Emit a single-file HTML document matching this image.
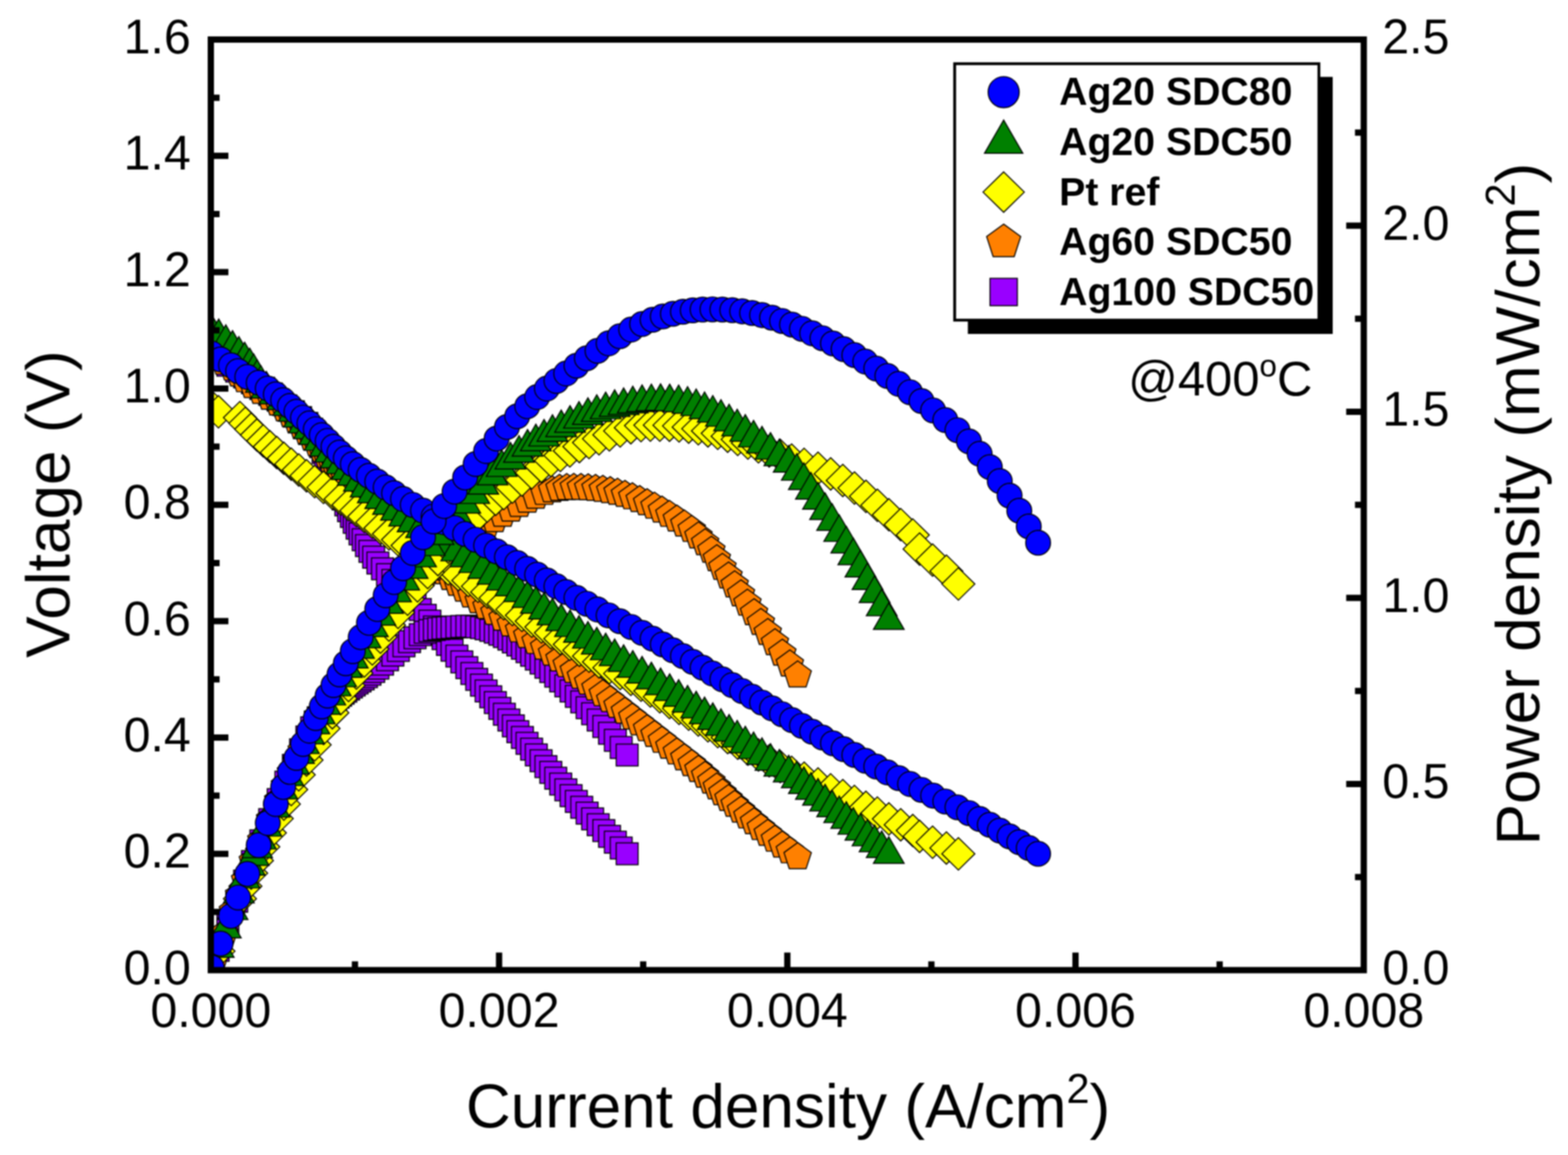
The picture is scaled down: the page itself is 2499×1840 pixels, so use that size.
<!DOCTYPE html>
<html lang="en"><head><meta charset="utf-8"><title>Polarization curves at 400 °C</title>
<style>html,body{margin:0;padding:0;background:#fff}body{width:2499px;height:1840px;overflow:hidden}svg{display:block}text{font-family:"Liberation Sans",Arial,Helvetica,sans-serif;fill:#000}.tk{font-size:77px}.ttl{font-size:99px}.lg{font-size:62.5px;font-weight:bold}.m *{stroke:#000;stroke-width:1.7;stroke-linejoin:miter}</style></head><body>
<svg width="2499" height="1840" viewBox="0 0 2499 1840">
<rect x="0" y="0" width="2499" height="1840" fill="#fff"/>
<defs><filter id="bl" x="-2%" y="-2%" width="104%" height="104%" color-interpolation-filters="sRGB"><feGaussianBlur stdDeviation="1.2"/></filter></defs>
<g filter="url(#bl)">
<clipPath id="cp"><rect x="336" y="63" width="1837.5" height="1482.5"/></clipPath>
<g clip-path="url(#cp)">
<g class="m">
<rect x="313.4" y="545.9" width="34.9" height="34.9" fill="#9900ff"/><rect x="330.2" y="555.2" width="34.9" height="34.9" fill="#9900ff"/><rect x="345.7" y="564.4" width="34.9" height="34.9" fill="#9900ff"/><rect x="359.8" y="573.7" width="34.9" height="34.9" fill="#9900ff"/><rect x="372.4" y="583" width="34.9" height="34.9" fill="#9900ff"/><rect x="384.9" y="592.2" width="34.9" height="34.9" fill="#9900ff"/><rect x="398.3" y="601.5" width="34.9" height="34.9" fill="#9900ff"/><rect x="412.4" y="610.8" width="34.9" height="34.9" fill="#9900ff"/><rect x="425.9" y="620" width="34.9" height="34.9" fill="#9900ff"/><rect x="438.2" y="629.3" width="34.9" height="34.9" fill="#9900ff"/><rect x="450.2" y="638.5" width="34.9" height="34.9" fill="#9900ff"/><rect x="461.6" y="647.8" width="34.9" height="34.9" fill="#9900ff"/><rect x="471.6" y="657.1" width="34.9" height="34.9" fill="#9900ff"/><rect x="479.3" y="666.3" width="34.9" height="34.9" fill="#9900ff"/><rect x="485" y="675.6" width="34.9" height="34.9" fill="#9900ff"/><rect x="489.7" y="684.9" width="34.9" height="34.9" fill="#9900ff"/><rect x="493.7" y="694.1" width="34.9" height="34.9" fill="#9900ff"/><rect x="497.5" y="703.4" width="34.9" height="34.9" fill="#9900ff"/><rect x="501.5" y="712.7" width="34.9" height="34.9" fill="#9900ff"/><rect x="505.6" y="721.9" width="34.9" height="34.9" fill="#9900ff"/><rect x="509.7" y="731.2" width="34.9" height="34.9" fill="#9900ff"/><rect x="513.7" y="740.5" width="34.9" height="34.9" fill="#9900ff"/><rect x="517.6" y="749.7" width="34.9" height="34.9" fill="#9900ff"/><rect x="521.5" y="759" width="34.9" height="34.9" fill="#9900ff"/><rect x="525.4" y="768.3" width="34.9" height="34.9" fill="#9900ff"/><rect x="529.5" y="777.5" width="34.9" height="34.9" fill="#9900ff"/><rect x="533.7" y="786.8" width="34.9" height="34.9" fill="#9900ff"/><rect x="538.1" y="796.1" width="34.9" height="34.9" fill="#9900ff"/><rect x="542.6" y="805.3" width="34.9" height="34.9" fill="#9900ff"/><rect x="547.1" y="814.6" width="34.9" height="34.9" fill="#9900ff"/><rect x="551.7" y="823.9" width="34.9" height="34.9" fill="#9900ff"/><rect x="556.4" y="833.1" width="34.9" height="34.9" fill="#9900ff"/><rect x="561.4" y="842.4" width="34.9" height="34.9" fill="#9900ff"/><rect x="566.6" y="851.7" width="34.9" height="34.9" fill="#9900ff"/><rect x="572.2" y="860.9" width="34.9" height="34.9" fill="#9900ff"/><rect x="578.1" y="870.2" width="34.9" height="34.9" fill="#9900ff"/><rect x="584.8" y="879.5" width="34.9" height="34.9" fill="#9900ff"/><rect x="592.2" y="888.7" width="34.9" height="34.9" fill="#9900ff"/><rect x="600.2" y="898" width="34.9" height="34.9" fill="#9900ff"/><rect x="608.7" y="907.3" width="34.9" height="34.9" fill="#9900ff"/><rect x="617.5" y="916.5" width="34.9" height="34.9" fill="#9900ff"/><rect x="626.4" y="925.8" width="34.9" height="34.9" fill="#9900ff"/><rect x="635.3" y="935.1" width="34.9" height="34.9" fill="#9900ff"/><rect x="644" y="944.3" width="34.9" height="34.9" fill="#9900ff"/><rect x="652.4" y="953.6" width="34.9" height="34.9" fill="#9900ff"/><rect x="660.3" y="962.8" width="34.9" height="34.9" fill="#9900ff"/><rect x="667.7" y="972.1" width="34.9" height="34.9" fill="#9900ff"/><rect x="674.8" y="981.4" width="34.9" height="34.9" fill="#9900ff"/><rect x="681.8" y="990.6" width="34.9" height="34.9" fill="#9900ff"/><rect x="688.7" y="999.9" width="34.9" height="34.9" fill="#9900ff"/><rect x="695.7" y="1009.2" width="34.9" height="34.9" fill="#9900ff"/><rect x="703" y="1018.4" width="34.9" height="34.9" fill="#9900ff"/><rect x="710.7" y="1027.7" width="34.9" height="34.9" fill="#9900ff"/><rect x="718.6" y="1037" width="34.9" height="34.9" fill="#9900ff"/><rect x="726.6" y="1046.2" width="34.9" height="34.9" fill="#9900ff"/><rect x="734.6" y="1055.5" width="34.9" height="34.9" fill="#9900ff"/><rect x="742.3" y="1064.8" width="34.9" height="34.9" fill="#9900ff"/><rect x="749.9" y="1074" width="34.9" height="34.9" fill="#9900ff"/><rect x="757.3" y="1083.3" width="34.9" height="34.9" fill="#9900ff"/><rect x="764.7" y="1092.6" width="34.9" height="34.9" fill="#9900ff"/><rect x="772" y="1101.8" width="34.9" height="34.9" fill="#9900ff"/><rect x="779.2" y="1111.1" width="34.9" height="34.9" fill="#9900ff"/><rect x="786.4" y="1120.4" width="34.9" height="34.9" fill="#9900ff"/><rect x="793.6" y="1129.6" width="34.9" height="34.9" fill="#9900ff"/><rect x="800.7" y="1138.9" width="34.9" height="34.9" fill="#9900ff"/><rect x="807.9" y="1148.2" width="34.9" height="34.9" fill="#9900ff"/><rect x="815.2" y="1157.4" width="34.9" height="34.9" fill="#9900ff"/><rect x="822.5" y="1166.7" width="34.9" height="34.9" fill="#9900ff"/><rect x="829.8" y="1176" width="34.9" height="34.9" fill="#9900ff"/><rect x="837.3" y="1185.2" width="34.9" height="34.9" fill="#9900ff"/><rect x="844.9" y="1194.5" width="34.9" height="34.9" fill="#9900ff"/><rect x="852.6" y="1203.8" width="34.9" height="34.9" fill="#9900ff"/><rect x="860.4" y="1213" width="34.9" height="34.9" fill="#9900ff"/><rect x="868.3" y="1222.3" width="34.9" height="34.9" fill="#9900ff"/><rect x="876.2" y="1231.6" width="34.9" height="34.9" fill="#9900ff"/><rect x="884.4" y="1240.8" width="34.9" height="34.9" fill="#9900ff"/><rect x="892.7" y="1250.1" width="34.9" height="34.9" fill="#9900ff"/><rect x="901.1" y="1259.3" width="34.9" height="34.9" fill="#9900ff"/><rect x="909.7" y="1268.6" width="34.9" height="34.9" fill="#9900ff"/><rect x="918.3" y="1277.9" width="34.9" height="34.9" fill="#9900ff"/><rect x="927.1" y="1287.1" width="34.9" height="34.9" fill="#9900ff"/><rect x="935.9" y="1296.4" width="34.9" height="34.9" fill="#9900ff"/><rect x="944.9" y="1305.7" width="34.9" height="34.9" fill="#9900ff"/><rect x="954" y="1314.9" width="34.9" height="34.9" fill="#9900ff"/><rect x="963.3" y="1324.2" width="34.9" height="34.9" fill="#9900ff"/><rect x="972.6" y="1333.5" width="34.9" height="34.9" fill="#9900ff"/><rect x="982.1" y="1342.7" width="34.9" height="34.9" fill="#9900ff"/>
</g><g class="m">
<rect x="313.4" y="1542.1" width="34.9" height="34.9" fill="#9900ff"/><rect x="330.2" y="1496.5" width="34.9" height="34.9" fill="#9900ff"/><rect x="345.7" y="1455" width="34.9" height="34.9" fill="#9900ff"/><rect x="359.8" y="1418.3" width="34.9" height="34.9" fill="#9900ff"/><rect x="372.4" y="1386.2" width="34.9" height="34.9" fill="#9900ff"/><rect x="384.9" y="1355.1" width="34.9" height="34.9" fill="#9900ff"/><rect x="398.3" y="1322.1" width="34.9" height="34.9" fill="#9900ff"/><rect x="412.4" y="1288.3" width="34.9" height="34.9" fill="#9900ff"/><rect x="425.9" y="1256.4" width="34.9" height="34.9" fill="#9900ff"/><rect x="438.2" y="1228.5" width="34.9" height="34.9" fill="#9900ff"/><rect x="450.2" y="1201.8" width="34.9" height="34.9" fill="#9900ff"/><rect x="461.6" y="1177.1" width="34.9" height="34.9" fill="#9900ff"/><rect x="471.6" y="1156.6" width="34.9" height="34.9" fill="#9900ff"/><rect x="479.3" y="1142" width="34.9" height="34.9" fill="#9900ff"/><rect x="485" y="1132.7" width="34.9" height="34.9" fill="#9900ff"/><rect x="489.7" y="1126.1" width="34.9" height="34.9" fill="#9900ff"/><rect x="493.7" y="1121.1" width="34.9" height="34.9" fill="#9900ff"/><rect x="497.5" y="1116.8" width="34.9" height="34.9" fill="#9900ff"/><rect x="501.5" y="1112.5" width="34.9" height="34.9" fill="#9900ff"/><rect x="505.6" y="1107.8" width="34.9" height="34.9" fill="#9900ff"/><rect x="509.7" y="1103.6" width="34.9" height="34.9" fill="#9900ff"/><rect x="513.7" y="1099.9" width="34.9" height="34.9" fill="#9900ff"/><rect x="517.6" y="1096.4" width="34.9" height="34.9" fill="#9900ff"/><rect x="521.5" y="1093.2" width="34.9" height="34.9" fill="#9900ff"/><rect x="525.4" y="1090.1" width="34.9" height="34.9" fill="#9900ff"/><rect x="529.5" y="1086.9" width="34.9" height="34.9" fill="#9900ff"/><rect x="533.7" y="1083.7" width="34.9" height="34.9" fill="#9900ff"/><rect x="538.1" y="1080.3" width="34.9" height="34.9" fill="#9900ff"/><rect x="542.6" y="1077" width="34.9" height="34.9" fill="#9900ff"/><rect x="547.1" y="1073.8" width="34.9" height="34.9" fill="#9900ff"/><rect x="551.7" y="1070.6" width="34.9" height="34.9" fill="#9900ff"/><rect x="556.4" y="1067.4" width="34.9" height="34.9" fill="#9900ff"/><rect x="561.4" y="1064.1" width="34.9" height="34.9" fill="#9900ff"/><rect x="566.6" y="1060.5" width="34.9" height="34.9" fill="#9900ff"/><rect x="572.2" y="1056.6" width="34.9" height="34.9" fill="#9900ff"/><rect x="578.1" y="1052.2" width="34.9" height="34.9" fill="#9900ff"/><rect x="584.8" y="1046.9" width="34.9" height="34.9" fill="#9900ff"/><rect x="592.2" y="1040.6" width="34.9" height="34.9" fill="#9900ff"/><rect x="600.2" y="1033.6" width="34.9" height="34.9" fill="#9900ff"/><rect x="608.7" y="1026.2" width="34.9" height="34.9" fill="#9900ff"/><rect x="617.5" y="1018.7" width="34.9" height="34.9" fill="#9900ff"/><rect x="626.4" y="1011.4" width="34.9" height="34.9" fill="#9900ff"/><rect x="635.3" y="1004.7" width="34.9" height="34.9" fill="#9900ff"/><rect x="644" y="998.6" width="34.9" height="34.9" fill="#9900ff"/><rect x="652.4" y="993.6" width="34.9" height="34.9" fill="#9900ff"/><rect x="660.3" y="989.8" width="34.9" height="34.9" fill="#9900ff"/><rect x="667.7" y="987.2" width="34.9" height="34.9" fill="#9900ff"/><rect x="674.8" y="985.4" width="34.9" height="34.9" fill="#9900ff"/><rect x="681.8" y="984.2" width="34.9" height="34.9" fill="#9900ff"/><rect x="688.7" y="983.3" width="34.9" height="34.9" fill="#9900ff"/><rect x="695.7" y="982.7" width="34.9" height="34.9" fill="#9900ff"/><rect x="703" y="982.1" width="34.9" height="34.9" fill="#9900ff"/><rect x="710.7" y="981.3" width="34.9" height="34.9" fill="#9900ff"/><rect x="718.6" y="980.6" width="34.9" height="34.9" fill="#9900ff"/><rect x="726.6" y="980.2" width="34.9" height="34.9" fill="#9900ff"/><rect x="734.6" y="980.3" width="34.9" height="34.9" fill="#9900ff"/><rect x="742.3" y="981" width="34.9" height="34.9" fill="#9900ff"/><rect x="749.9" y="982.4" width="34.9" height="34.9" fill="#9900ff"/><rect x="757.3" y="984.3" width="34.9" height="34.9" fill="#9900ff"/><rect x="764.7" y="986.7" width="34.9" height="34.9" fill="#9900ff"/><rect x="772" y="989.6" width="34.9" height="34.9" fill="#9900ff"/><rect x="779.2" y="992.9" width="34.9" height="34.9" fill="#9900ff"/><rect x="786.4" y="996.6" width="34.9" height="34.9" fill="#9900ff"/><rect x="793.6" y="1000.7" width="34.9" height="34.9" fill="#9900ff"/><rect x="800.7" y="1005.2" width="34.9" height="34.9" fill="#9900ff"/><rect x="807.9" y="1010" width="34.9" height="34.9" fill="#9900ff"/><rect x="815.2" y="1015.2" width="34.9" height="34.9" fill="#9900ff"/><rect x="822.5" y="1020.7" width="34.9" height="34.9" fill="#9900ff"/><rect x="829.8" y="1026.4" width="34.9" height="34.9" fill="#9900ff"/><rect x="837.3" y="1032.5" width="34.9" height="34.9" fill="#9900ff"/><rect x="844.9" y="1038.8" width="34.9" height="34.9" fill="#9900ff"/><rect x="852.6" y="1045.5" width="34.9" height="34.9" fill="#9900ff"/><rect x="860.4" y="1052.4" width="34.9" height="34.9" fill="#9900ff"/><rect x="868.3" y="1059.7" width="34.9" height="34.9" fill="#9900ff"/><rect x="876.2" y="1067.3" width="34.9" height="34.9" fill="#9900ff"/><rect x="884.4" y="1075.2" width="34.9" height="34.9" fill="#9900ff"/><rect x="892.7" y="1083.4" width="34.9" height="34.9" fill="#9900ff"/><rect x="901.1" y="1091.9" width="34.9" height="34.9" fill="#9900ff"/><rect x="909.7" y="1100.7" width="34.9" height="34.9" fill="#9900ff"/><rect x="918.3" y="1110" width="34.9" height="34.9" fill="#9900ff"/><rect x="927.1" y="1119.6" width="34.9" height="34.9" fill="#9900ff"/><rect x="935.9" y="1129.6" width="34.9" height="34.9" fill="#9900ff"/><rect x="944.9" y="1139.9" width="34.9" height="34.9" fill="#9900ff"/><rect x="954" y="1150.7" width="34.9" height="34.9" fill="#9900ff"/><rect x="963.3" y="1161.9" width="34.9" height="34.9" fill="#9900ff"/><rect x="972.6" y="1173.4" width="34.9" height="34.9" fill="#9900ff"/><rect x="982.1" y="1185.4" width="34.9" height="34.9" fill="#9900ff"/>
</g>
<g class="m">
<polygon points="340.6,545.5 362.4,561.4 354.1,587 327.2,587 318.8,561.4" fill="#ff8000"/><polygon points="357.6,554.8 379.4,570.6 371.1,596.2 344.1,596.2 335.8,570.6" fill="#ff8000"/><polygon points="371.1,564.1 392.9,579.9 384.6,605.5 357.7,605.5 349.4,579.9" fill="#ff8000"/><polygon points="381.1,573.3 402.9,589.2 394.5,614.8 367.6,614.8 359.3,589.2" fill="#ff8000"/><polygon points="390.7,582.6 412.4,598.4 404.1,624 377.2,624 368.9,598.4" fill="#ff8000"/><polygon points="403,591.9 424.8,607.7 416.5,633.3 389.5,633.3 381.2,607.7" fill="#ff8000"/><polygon points="416.5,601.1 438.3,617 430,642.6 403.1,642.6 394.7,617" fill="#ff8000"/><polygon points="430.5,610.4 452.2,626.2 443.9,651.8 417,651.8 408.7,626.2" fill="#ff8000"/><polygon points="443.4,619.7 465.2,635.5 456.9,661.1 430,661.1 421.6,635.5" fill="#ff8000"/><polygon points="454.1,628.9 475.9,644.8 467.6,670.4 440.6,670.4 432.3,644.8" fill="#ff8000"/><polygon points="463.7,638.2 485.5,654 477.2,679.6 450.2,679.6 441.9,654" fill="#ff8000"/><polygon points="472.6,647.5 494.3,663.3 486,688.9 459.1,688.9 450.8,663.3" fill="#ff8000"/><polygon points="480.9,656.7 502.7,672.6 494.4,698.2 467.5,698.2 459.1,672.6" fill="#ff8000"/><polygon points="489,666 510.8,681.8 502.5,707.4 475.6,707.4 467.3,681.8" fill="#ff8000"/><polygon points="497.2,675.3 518.9,691.1 510.6,716.7 483.7,716.7 475.4,691.1" fill="#ff8000"/><polygon points="505.2,684.5 527,700.3 518.7,726 491.8,726 483.4,700.3" fill="#ff8000"/><polygon points="512.9,693.8 534.7,709.6 526.3,735.2 499.4,735.2 491.1,709.6" fill="#ff8000"/><polygon points="520.3,703.1 542.1,718.9 533.7,744.5 506.8,744.5 498.5,718.9" fill="#ff8000"/><polygon points="527.5,712.3 549.3,728.1 541,753.7 514.1,753.7 505.7,728.1" fill="#ff8000"/><polygon points="534.7,721.6 556.5,737.4 548.2,763 521.3,763 513,737.4" fill="#ff8000"/><polygon points="542.1,730.9 563.9,746.7 555.6,772.3 528.6,772.3 520.3,746.7" fill="#ff8000"/><polygon points="549.7,740.1 571.5,755.9 563.1,781.5 536.2,781.5 527.9,755.9" fill="#ff8000"/><polygon points="557.7,749.4 579.4,765.2 571.1,790.8 544.2,790.8 535.9,765.2" fill="#ff8000"/><polygon points="566.1,758.6 587.9,774.5 579.6,800.1 552.7,800.1 544.3,774.5" fill="#ff8000"/><polygon points="575.2,767.9 597,783.7 588.7,809.3 561.7,809.3 553.4,783.7" fill="#ff8000"/><polygon points="584.8,777.2 606.6,793 598.3,818.6 571.4,818.6 563,793" fill="#ff8000"/><polygon points="594.9,786.4 616.6,802.3 608.3,827.9 581.4,827.9 573.1,802.3" fill="#ff8000"/><polygon points="605.2,795.7 627,811.5 618.7,837.1 591.8,837.1 583.4,811.5" fill="#ff8000"/><polygon points="615.8,805 637.6,820.8 629.3,846.4 602.3,846.4 594,820.8" fill="#ff8000"/><polygon points="626.5,814.2 648.3,830.1 639.9,855.7 613,855.7 604.7,830.1" fill="#ff8000"/><polygon points="637.2,823.5 658.9,839.3 650.6,864.9 623.7,864.9 615.4,839.3" fill="#ff8000"/><polygon points="647.7,832.8 669.5,848.6 661.2,874.2 634.3,874.2 625.9,848.6" fill="#ff8000"/><polygon points="658.1,842 679.9,857.9 671.5,883.5 644.6,883.5 636.3,857.9" fill="#ff8000"/><polygon points="668.2,851.3 690,867.1 681.6,892.7 654.7,892.7 646.4,867.1" fill="#ff8000"/><polygon points="678.1,860.6 699.9,876.4 691.6,902 664.7,902 656.3,876.4" fill="#ff8000"/><polygon points="688,869.8 709.8,885.7 701.5,911.3 674.5,911.3 666.2,885.7" fill="#ff8000"/><polygon points="697.9,879.1 719.7,894.9 711.4,920.5 684.5,920.5 676.1,894.9" fill="#ff8000"/><polygon points="708,888.4 729.7,904.2 721.4,929.8 694.5,929.8 686.2,904.2" fill="#ff8000"/><polygon points="718.2,897.6 740,913.5 731.7,939.1 704.7,939.1 696.4,913.5" fill="#ff8000"/><polygon points="728.8,906.9 750.5,922.7 742.2,948.3 715.3,948.3 707,922.7" fill="#ff8000"/><polygon points="739.7,916.2 761.5,932 753.2,957.6 726.3,957.6 718,932" fill="#ff8000"/><polygon points="751.2,925.4 773,941.3 764.6,966.9 737.7,966.9 729.4,941.3" fill="#ff8000"/><polygon points="763.1,934.7 784.9,950.5 776.6,976.1 749.7,976.1 741.3,950.5" fill="#ff8000"/><polygon points="775.5,944 797.2,959.8 788.9,985.4 762,985.4 753.7,959.8" fill="#ff8000"/><polygon points="788.1,953.2 809.9,969.1 801.6,994.7 774.7,994.7 766.3,969.1" fill="#ff8000"/><polygon points="801,962.5 822.8,978.3 814.5,1003.9 787.6,1003.9 779.2,978.3" fill="#ff8000"/><polygon points="814.1,971.8 835.9,987.6 827.5,1013.2 800.6,1013.2 792.3,987.6" fill="#ff8000"/><polygon points="827.2,981 849,996.8 840.7,1022.5 813.8,1022.5 805.5,996.8" fill="#ff8000"/><polygon points="840.4,990.3 862.2,1006.1 853.9,1031.7 826.9,1031.7 818.6,1006.1" fill="#ff8000"/><polygon points="853.7,999.6 875.4,1015.4 867.1,1041 840.2,1041 831.9,1015.4" fill="#ff8000"/><polygon points="867.3,1008.8 889.1,1024.6 880.7,1050.2 853.8,1050.2 845.5,1024.6" fill="#ff8000"/><polygon points="879.9,1018.1 901.7,1033.9 893.4,1059.5 866.4,1059.5 858.1,1033.9" fill="#ff8000"/><polygon points="891.8,1027.4 913.6,1043.2 905.3,1068.8 878.3,1068.8 870,1043.2" fill="#ff8000"/><polygon points="903.3,1036.6 925,1052.4 916.7,1078 889.8,1078 881.5,1052.4" fill="#ff8000"/><polygon points="914.6,1045.9 936.3,1061.7 928,1087.3 901.1,1087.3 892.8,1061.7" fill="#ff8000"/><polygon points="925.9,1055.1 947.7,1071 939.3,1096.6 912.4,1096.6 904.1,1071" fill="#ff8000"/><polygon points="937.4,1064.4 959.2,1080.2 950.9,1105.8 924,1105.8 915.7,1080.2" fill="#ff8000"/><polygon points="949.1,1073.7 970.9,1089.5 962.6,1115.1 935.7,1115.1 927.3,1089.5" fill="#ff8000"/><polygon points="960.8,1082.9 982.6,1098.8 974.3,1124.4 947.4,1124.4 939,1098.8" fill="#ff8000"/><polygon points="972.5,1092.2 994.3,1108 986,1133.6 959.1,1133.6 950.8,1108" fill="#ff8000"/><polygon points="984.3,1101.5 1006,1117.3 997.7,1142.9 970.8,1142.9 962.5,1117.3" fill="#ff8000"/><polygon points="996,1110.7 1017.8,1126.6 1009.5,1152.2 982.5,1152.2 974.2,1126.6" fill="#ff8000"/><polygon points="1007.8,1120 1029.5,1135.8 1021.2,1161.4 994.3,1161.4 986,1135.8" fill="#ff8000"/><polygon points="1019.5,1129.3 1041.3,1145.1 1033,1170.7 1006.1,1170.7 997.8,1145.1" fill="#ff8000"/><polygon points="1031.3,1138.5 1053.1,1154.4 1044.8,1180 1017.9,1180 1009.6,1154.4" fill="#ff8000"/><polygon points="1043.2,1147.8 1064.9,1163.6 1056.6,1189.2 1029.7,1189.2 1021.4,1163.6" fill="#ff8000"/><polygon points="1055,1157.1 1076.8,1172.9 1068.5,1198.5 1041.5,1198.5 1033.2,1172.9" fill="#ff8000"/><polygon points="1066.9,1166.3 1088.6,1182.2 1080.3,1207.8 1053.4,1207.8 1045.1,1182.2" fill="#ff8000"/><polygon points="1078.7,1175.6 1100.5,1191.4 1092.2,1217 1065.3,1217 1057,1191.4" fill="#ff8000"/><polygon points="1090.7,1184.9 1112.5,1200.7 1104.1,1226.3 1077.2,1226.3 1068.9,1200.7" fill="#ff8000"/><polygon points="1102.5,1194.1 1124.3,1210 1115.9,1235.6 1089,1235.6 1080.7,1210" fill="#ff8000"/><polygon points="1113.2,1203.4 1135,1219.2 1126.7,1244.8 1099.7,1244.8 1091.4,1219.2" fill="#ff8000"/><polygon points="1123.8,1212.7 1145.6,1228.5 1137.3,1254.1 1110.4,1254.1 1102.1,1228.5" fill="#ff8000"/><polygon points="1133.8,1221.9 1155.5,1237.8 1147.2,1263.4 1120.3,1263.4 1112,1237.8" fill="#ff8000"/><polygon points="1142.4,1231.2 1164.2,1247 1155.9,1272.6 1129,1272.6 1120.7,1247" fill="#ff8000"/><polygon points="1151.4,1240.5 1173.2,1256.3 1164.9,1281.9 1138,1281.9 1129.6,1256.3" fill="#ff8000"/><polygon points="1161.1,1249.7 1182.8,1265.6 1174.5,1291.2 1147.6,1291.2 1139.3,1265.6" fill="#ff8000"/><polygon points="1170.9,1259 1192.7,1274.8 1184.4,1300.4 1157.4,1300.4 1149.1,1274.8" fill="#ff8000"/><polygon points="1180.9,1268.3 1202.7,1284.1 1194.4,1309.7 1167.5,1309.7 1159.2,1284.1" fill="#ff8000"/><polygon points="1191.2,1277.5 1213,1293.3 1204.7,1319 1177.8,1319 1169.5,1293.3" fill="#ff8000"/><polygon points="1201.8,1286.8 1223.5,1302.6 1215.2,1328.2 1188.3,1328.2 1180,1302.6" fill="#ff8000"/><polygon points="1212.6,1296.1 1234.4,1311.9 1226,1337.5 1199.1,1337.5 1190.8,1311.9" fill="#ff8000"/><polygon points="1223.7,1305.3 1245.4,1321.1 1237.1,1346.7 1210.2,1346.7 1201.9,1321.1" fill="#ff8000"/><polygon points="1235.1,1314.6 1256.8,1330.4 1248.5,1356 1221.6,1356 1213.3,1330.4" fill="#ff8000"/><polygon points="1246.8,1323.9 1268.6,1339.7 1260.3,1365.3 1233.3,1365.3 1225,1339.7" fill="#ff8000"/><polygon points="1258.9,1333.1 1280.6,1348.9 1272.3,1374.5 1245.4,1374.5 1237.1,1348.9" fill="#ff8000"/><polygon points="1271.3,1342.4 1293.1,1358.2 1284.7,1383.8 1257.8,1383.8 1249.5,1358.2" fill="#ff8000"/>
</g><g class="m">
<polygon points="340.6,1510 362.4,1525.8 354.1,1551.4 327.2,1551.4 318.8,1525.8" fill="#ff8000"/><polygon points="357.6,1464.3 379.4,1480.2 371.1,1505.8 344.1,1505.8 335.8,1480.2" fill="#ff8000"/><polygon points="371.1,1428.8 392.9,1444.6 384.6,1470.2 357.7,1470.2 349.4,1444.6" fill="#ff8000"/><polygon points="381.1,1403.3 402.9,1419.2 394.5,1444.8 367.6,1444.8 359.3,1419.2" fill="#ff8000"/><polygon points="390.7,1379.4 412.4,1395.3 404.1,1420.9 377.2,1420.9 368.9,1395.3" fill="#ff8000"/><polygon points="403,1348.8 424.8,1364.7 416.5,1390.3 389.5,1390.3 381.2,1364.7" fill="#ff8000"/><polygon points="416.5,1315.9 438.3,1331.7 430,1357.3 403.1,1357.3 394.7,1331.7" fill="#ff8000"/><polygon points="430.5,1282.5 452.2,1298.3 443.9,1323.9 417,1323.9 408.7,1298.3" fill="#ff8000"/><polygon points="443.4,1252.3 465.2,1268.2 456.9,1293.8 430,1293.8 421.6,1268.2" fill="#ff8000"/><polygon points="454.1,1228.5 475.9,1244.3 467.6,1269.9 440.6,1269.9 432.3,1244.3" fill="#ff8000"/><polygon points="463.7,1207.9 485.5,1223.7 477.2,1249.3 450.2,1249.3 441.9,1223.7" fill="#ff8000"/><polygon points="472.6,1189.6 494.3,1205.4 486,1231 459.1,1231 450.8,1205.4" fill="#ff8000"/><polygon points="480.9,1172.9 502.7,1188.8 494.4,1214.4 467.5,1214.4 459.1,1188.8" fill="#ff8000"/><polygon points="489,1157.3 510.8,1173.1 502.5,1198.7 475.6,1198.7 467.3,1173.1" fill="#ff8000"/><polygon points="497.2,1142.1 518.9,1157.9 510.6,1183.5 483.7,1183.5 475.4,1157.9" fill="#ff8000"/><polygon points="505.2,1127.4 527,1143.3 518.7,1168.9 491.8,1168.9 483.4,1143.3" fill="#ff8000"/><polygon points="512.9,1114.1 534.7,1129.9 526.3,1155.5 499.4,1155.5 491.1,1129.9" fill="#ff8000"/><polygon points="520.3,1101.8 542.1,1117.6 533.7,1143.2 506.8,1143.2 498.5,1117.6" fill="#ff8000"/><polygon points="527.5,1090.2 549.3,1106 541,1131.6 514.1,1131.6 505.7,1106" fill="#ff8000"/><polygon points="534.7,1079 556.5,1094.8 548.2,1120.4 521.3,1120.4 513,1094.8" fill="#ff8000"/><polygon points="542.1,1067.9 563.9,1083.8 555.6,1109.4 528.6,1109.4 520.3,1083.8" fill="#ff8000"/><polygon points="549.7,1056.7 571.5,1072.5 563.1,1098.1 536.2,1098.1 527.9,1072.5" fill="#ff8000"/><polygon points="557.7,1045.1 579.4,1060.9 571.1,1086.5 544.2,1086.5 535.9,1060.9" fill="#ff8000"/><polygon points="566.1,1032.7 587.9,1048.6 579.6,1074.2 552.7,1074.2 544.3,1048.6" fill="#ff8000"/><polygon points="575.2,1019.6 597,1035.4 588.7,1061 561.7,1061 553.4,1035.4" fill="#ff8000"/><polygon points="584.8,1005.8 606.6,1021.6 598.3,1047.2 571.4,1047.2 563,1021.6" fill="#ff8000"/><polygon points="594.9,991.6 616.6,1007.5 608.3,1033.1 581.4,1033.1 573.1,1007.5" fill="#ff8000"/><polygon points="605.2,977.3 627,993.2 618.7,1018.8 591.8,1018.8 583.4,993.2" fill="#ff8000"/><polygon points="615.8,963.1 637.6,979 629.3,1004.6 602.3,1004.6 594,979" fill="#ff8000"/><polygon points="626.5,949.3 648.3,965.1 639.9,990.7 613,990.7 604.7,965.1" fill="#ff8000"/><polygon points="637.2,936 658.9,951.8 650.6,977.4 623.7,977.4 615.4,951.8" fill="#ff8000"/><polygon points="647.7,923.4 669.5,939.3 661.2,964.9 634.3,964.9 625.9,939.3" fill="#ff8000"/><polygon points="658.1,911.8 679.9,927.7 671.5,953.3 644.6,953.3 636.3,927.7" fill="#ff8000"/><polygon points="668.2,901.3 690,917.1 681.6,942.7 654.7,942.7 646.4,917.1" fill="#ff8000"/><polygon points="678.1,891.5 699.9,907.3 691.6,932.9 664.7,932.9 656.3,907.3" fill="#ff8000"/><polygon points="688,882.4 709.8,898.2 701.5,923.8 674.5,923.8 666.2,898.2" fill="#ff8000"/><polygon points="697.9,873.7 719.7,889.5 711.4,915.1 684.5,915.1 676.1,889.5" fill="#ff8000"/><polygon points="708,865.3 729.7,881.1 721.4,906.7 694.5,906.7 686.2,881.1" fill="#ff8000"/><polygon points="718.2,857 740,872.8 731.7,898.4 704.7,898.4 696.4,872.8" fill="#ff8000"/><polygon points="728.8,848.8 750.5,864.6 742.2,890.2 715.3,890.2 707,864.6" fill="#ff8000"/><polygon points="739.7,840.4 761.5,856.2 753.2,881.8 726.3,881.8 718,856.2" fill="#ff8000"/><polygon points="751.2,831.8 773,847.6 764.6,873.2 737.7,873.2 729.4,847.6" fill="#ff8000"/><polygon points="763.1,822.9 784.9,838.7 776.6,864.4 749.7,864.4 741.3,838.7" fill="#ff8000"/><polygon points="775.5,814.1 797.2,829.9 788.9,855.5 762,855.5 753.7,829.9" fill="#ff8000"/><polygon points="788.1,805.3 809.9,821.1 801.6,846.8 774.7,846.8 766.3,821.1" fill="#ff8000"/><polygon points="801,796.9 822.8,812.7 814.5,838.3 787.6,838.3 779.2,812.7" fill="#ff8000"/><polygon points="814.1,788.8 835.9,804.6 827.5,830.2 800.6,830.2 792.3,804.6" fill="#ff8000"/><polygon points="827.2,781.3 849,797.1 840.7,822.7 813.8,822.7 805.5,797.1" fill="#ff8000"/><polygon points="840.4,774.5 862.2,790.3 853.9,815.9 826.9,815.9 818.6,790.3" fill="#ff8000"/><polygon points="853.7,768.1 875.4,784 867.1,809.6 840.2,809.6 831.9,784" fill="#ff8000"/><polygon points="867.3,762 889.1,777.9 880.7,803.5 853.8,803.5 845.5,777.9" fill="#ff8000"/><polygon points="879.9,758 901.7,773.8 893.4,799.4 866.4,799.4 858.1,773.8" fill="#ff8000"/><polygon points="891.8,755.6 913.6,771.5 905.3,797.1 878.3,797.1 870,771.5" fill="#ff8000"/><polygon points="903.3,754.4 925,770.3 916.7,795.9 889.8,795.9 881.5,770.3" fill="#ff8000"/><polygon points="914.6,754.1 936.3,769.9 928,795.5 901.1,795.5 892.8,769.9" fill="#ff8000"/><polygon points="925.9,754.3 947.7,770.1 939.3,795.7 912.4,795.7 904.1,770.1" fill="#ff8000"/><polygon points="937.4,754.7 959.2,770.6 950.9,796.2 924,796.2 915.7,770.6" fill="#ff8000"/><polygon points="949.1,755.7 970.9,771.5 962.6,797.1 935.7,797.1 927.3,771.5" fill="#ff8000"/><polygon points="960.8,757.2 982.6,773 974.3,798.6 947.4,798.6 939,773" fill="#ff8000"/><polygon points="972.5,759.3 994.3,775.1 986,800.7 959.1,800.7 950.8,775.1" fill="#ff8000"/><polygon points="984.3,761.9 1006,777.7 997.7,803.4 970.8,803.4 962.5,777.7" fill="#ff8000"/><polygon points="996,765.2 1017.8,781 1009.5,806.6 982.5,806.6 974.2,781" fill="#ff8000"/><polygon points="1007.8,769 1029.5,784.9 1021.2,810.5 994.3,810.5 986,784.9" fill="#ff8000"/><polygon points="1019.5,773.5 1041.3,789.3 1033,814.9 1006.1,814.9 997.8,789.3" fill="#ff8000"/><polygon points="1031.3,778.5 1053.1,794.3 1044.8,819.9 1017.9,819.9 1009.6,794.3" fill="#ff8000"/><polygon points="1043.2,784.1 1064.9,799.9 1056.6,825.5 1029.7,825.5 1021.4,799.9" fill="#ff8000"/><polygon points="1055,790.3 1076.8,806.1 1068.5,831.7 1041.5,831.7 1033.2,806.1" fill="#ff8000"/><polygon points="1066.9,797.1 1088.6,812.9 1080.3,838.5 1053.4,838.5 1045.1,812.9" fill="#ff8000"/><polygon points="1078.7,804.5 1100.5,820.3 1092.2,845.9 1065.3,845.9 1057,820.3" fill="#ff8000"/><polygon points="1090.7,812.4 1112.5,828.2 1104.1,853.8 1077.2,853.8 1068.9,828.2" fill="#ff8000"/><polygon points="1102.5,821.1 1124.3,836.9 1115.9,862.5 1089,862.5 1080.7,836.9" fill="#ff8000"/><polygon points="1113.2,831.3 1135,847.2 1126.7,872.8 1099.7,872.8 1091.4,847.2" fill="#ff8000"/><polygon points="1123.8,842.2 1145.6,858 1137.3,883.6 1110.4,883.6 1102.1,858" fill="#ff8000"/><polygon points="1133.8,854.2 1155.5,870.1 1147.2,895.7 1120.3,895.7 1112,870.1" fill="#ff8000"/><polygon points="1142.4,867.8 1164.2,883.6 1155.9,909.2 1129,909.2 1120.7,883.6" fill="#ff8000"/><polygon points="1151.4,881.6 1173.2,897.4 1164.9,923 1138,923 1129.6,897.4" fill="#ff8000"/><polygon points="1161.1,895.3 1182.8,911.1 1174.5,936.7 1147.6,936.7 1139.3,911.1" fill="#ff8000"/><polygon points="1170.9,909.4 1192.7,925.2 1184.4,950.8 1157.4,950.8 1149.1,925.2" fill="#ff8000"/><polygon points="1180.9,923.8 1202.7,939.6 1194.4,965.2 1167.5,965.2 1159.2,939.6" fill="#ff8000"/><polygon points="1191.2,938.6 1213,954.4 1204.7,980 1177.8,980 1169.5,954.4" fill="#ff8000"/><polygon points="1201.8,953.7 1223.5,969.6 1215.2,995.2 1188.3,995.2 1180,969.6" fill="#ff8000"/><polygon points="1212.6,969.3 1234.4,985.1 1226,1010.7 1199.1,1010.7 1190.8,985.1" fill="#ff8000"/><polygon points="1223.7,985.2 1245.4,1001 1237.1,1026.6 1210.2,1026.6 1201.9,1001" fill="#ff8000"/><polygon points="1235.1,1001.5 1256.8,1017.3 1248.5,1042.9 1221.6,1042.9 1213.3,1017.3" fill="#ff8000"/><polygon points="1246.8,1018.2 1268.6,1034 1260.3,1059.6 1233.3,1059.6 1225,1034" fill="#ff8000"/><polygon points="1258.9,1035.4 1280.6,1051.2 1272.3,1076.8 1245.4,1076.8 1237.1,1051.2" fill="#ff8000"/><polygon points="1271.3,1052.9 1293.1,1068.8 1284.7,1094.4 1257.8,1094.4 1249.5,1068.8" fill="#ff8000"/>
</g>
<g class="m">
<polygon points="336,620.9 362.3,646.7 336,672.5 309.7,646.7" fill="#ffff00"/><polygon points="348.2,630.2 374.5,656 348.2,681.8 321.9,656" fill="#ffff00"/><polygon points="382.4,639.5 408.7,665.3 382.4,691.1 356.1,665.3" fill="#ffff00"/><polygon points="391.1,648.7 417.4,674.5 391.1,700.3 364.8,674.5" fill="#ffff00"/><polygon points="400.3,658 426.6,683.8 400.3,709.6 374,683.8" fill="#ffff00"/><polygon points="409.5,667.3 435.8,693.1 409.5,718.9 383.2,693.1" fill="#ffff00"/><polygon points="419.6,676.5 445.9,702.3 419.6,728.1 393.3,702.3" fill="#ffff00"/><polygon points="430.1,685.8 456.4,711.6 430.1,737.4 403.8,711.6" fill="#ffff00"/><polygon points="441.1,695.1 467.4,720.9 441.1,746.7 414.8,720.9" fill="#ffff00"/><polygon points="452.4,704.3 478.7,730.1 452.4,755.9 426.1,730.1" fill="#ffff00"/><polygon points="464.1,713.6 490.4,739.4 464.1,765.2 437.8,739.4" fill="#ffff00"/><polygon points="476.1,722.9 502.4,748.7 476.1,774.5 449.8,748.7" fill="#ffff00"/><polygon points="488.5,732.1 514.8,757.9 488.5,783.7 462.2,757.9" fill="#ffff00"/><polygon points="501.5,741.4 527.8,767.2 501.5,793 475.2,767.2" fill="#ffff00"/><polygon points="515.6,750.7 541.9,776.5 515.6,802.3 489.3,776.5" fill="#ffff00"/><polygon points="529.7,759.9 556,785.7 529.7,811.5 503.4,785.7" fill="#ffff00"/><polygon points="542.9,769.2 569.2,795 542.9,820.8 516.6,795" fill="#ffff00"/><polygon points="555.5,778.5 581.8,804.3 555.5,830.1 529.2,804.3" fill="#ffff00"/><polygon points="568,787.7 594.3,813.5 568,839.3 541.7,813.5" fill="#ffff00"/><polygon points="580.6,797 606.9,822.8 580.6,848.6 554.3,822.8" fill="#ffff00"/><polygon points="593.4,806.2 619.7,832 593.4,857.8 567.1,832" fill="#ffff00"/><polygon points="606.4,815.5 632.7,841.3 606.4,867.1 580.1,841.3" fill="#ffff00"/><polygon points="619.9,824.8 646.2,850.6 619.9,876.4 593.6,850.6" fill="#ffff00"/><polygon points="634.4,834 660.7,859.8 634.4,885.6 608.1,859.8" fill="#ffff00"/><polygon points="649.6,843.3 675.9,869.1 649.6,894.9 623.3,869.1" fill="#ffff00"/><polygon points="665.4,852.6 691.7,878.4 665.4,904.2 639.1,878.4" fill="#ffff00"/><polygon points="681.6,861.8 707.9,887.6 681.6,913.4 655.3,887.6" fill="#ffff00"/><polygon points="697.9,871.1 724.2,896.9 697.9,922.7 671.6,896.9" fill="#ffff00"/><polygon points="714.3,880.4 740.6,906.2 714.3,932 688,906.2" fill="#ffff00"/><polygon points="730.6,889.6 756.9,915.4 730.6,941.2 704.3,915.4" fill="#ffff00"/><polygon points="746.5,898.9 772.8,924.7 746.5,950.5 720.2,924.7" fill="#ffff00"/><polygon points="761.8,908.2 788.1,934 761.8,959.8 735.5,934" fill="#ffff00"/><polygon points="776.5,917.4 802.8,943.2 776.5,969 750.2,943.2" fill="#ffff00"/><polygon points="790,926.7 816.3,952.5 790,978.3 763.7,952.5" fill="#ffff00"/><polygon points="802.8,936 829.1,961.8 802.8,987.6 776.5,961.8" fill="#ffff00"/><polygon points="816.6,945.2 842.9,971 816.6,996.8 790.3,971" fill="#ffff00"/><polygon points="831.8,954.5 858.1,980.3 831.8,1006.1 805.5,980.3" fill="#ffff00"/><polygon points="847.5,963.8 873.8,989.6 847.5,1015.4 821.2,989.6" fill="#ffff00"/><polygon points="862.9,973 889.2,998.8 862.9,1024.6 836.6,998.8" fill="#ffff00"/><polygon points="878.1,982.3 904.4,1008.1 878.1,1033.9 851.8,1008.1" fill="#ffff00"/><polygon points="893.1,991.6 919.4,1017.4 893.1,1043.2 866.8,1017.4" fill="#ffff00"/><polygon points="908.2,1000.8 934.5,1026.6 908.2,1052.4 881.9,1026.6" fill="#ffff00"/><polygon points="923.4,1010.1 949.7,1035.9 923.4,1061.7 897.1,1035.9" fill="#ffff00"/><polygon points="938.8,1019.4 965.1,1045.2 938.8,1071 912.5,1045.2" fill="#ffff00"/><polygon points="954.7,1028.6 981,1054.4 954.7,1080.2 928.4,1054.4" fill="#ffff00"/><polygon points="971.2,1037.9 997.5,1063.7 971.2,1089.5 944.9,1063.7" fill="#ffff00"/><polygon points="988.4,1047.2 1014.7,1073 988.4,1098.8 962.1,1073" fill="#ffff00"/><polygon points="1005.4,1056.4 1031.7,1082.2 1005.4,1108 979.1,1082.2" fill="#ffff00"/><polygon points="1021.6,1065.7 1047.9,1091.5 1021.6,1117.3 995.3,1091.5" fill="#ffff00"/><polygon points="1036.5,1075 1062.8,1100.8 1036.5,1126.6 1010.2,1100.8" fill="#ffff00"/><polygon points="1051.6,1084.2 1077.9,1110 1051.6,1135.8 1025.3,1110" fill="#ffff00"/><polygon points="1067,1093.5 1093.3,1119.3 1067,1145.1 1040.7,1119.3" fill="#ffff00"/><polygon points="1082.3,1102.7 1108.6,1128.5 1082.3,1154.3 1056,1128.5" fill="#ffff00"/><polygon points="1097.6,1112 1123.9,1137.8 1097.6,1163.6 1071.3,1137.8" fill="#ffff00"/><polygon points="1112.9,1121.3 1139.2,1147.1 1112.9,1172.9 1086.6,1147.1" fill="#ffff00"/><polygon points="1128.3,1130.5 1154.6,1156.3 1128.3,1182.1 1102,1156.3" fill="#ffff00"/><polygon points="1143.9,1139.8 1170.2,1165.6 1143.9,1191.4 1117.6,1165.6" fill="#ffff00"/><polygon points="1159.7,1149.1 1186,1174.9 1159.7,1200.7 1133.4,1174.9" fill="#ffff00"/><polygon points="1175.7,1158.3 1202,1184.1 1175.7,1209.9 1149.4,1184.1" fill="#ffff00"/><polygon points="1192,1167.6 1218.3,1193.4 1192,1219.2 1165.7,1193.4" fill="#ffff00"/><polygon points="1208.8,1176.9 1235.1,1202.7 1208.8,1228.5 1182.5,1202.7" fill="#ffff00"/><polygon points="1225.9,1186.1 1252.2,1211.9 1225.9,1237.7 1199.6,1211.9" fill="#ffff00"/><polygon points="1243.5,1195.4 1269.8,1221.2 1243.5,1247 1217.2,1221.2" fill="#ffff00"/><polygon points="1261.6,1204.7 1287.9,1230.5 1261.6,1256.3 1235.3,1230.5" fill="#ffff00"/><polygon points="1281.6,1213.9 1307.9,1239.7 1281.6,1265.5 1255.3,1239.7" fill="#ffff00"/><polygon points="1303.7,1223.2 1330,1249 1303.7,1274.8 1277.4,1249" fill="#ffff00"/><polygon points="1323.9,1232.5 1350.2,1258.3 1323.9,1284.1 1297.6,1258.3" fill="#ffff00"/><polygon points="1343.2,1241.7 1369.5,1267.5 1343.2,1293.3 1316.9,1267.5" fill="#ffff00"/><polygon points="1361.8,1251 1388.1,1276.8 1361.8,1302.6 1335.5,1276.8" fill="#ffff00"/><polygon points="1380.1,1260.3 1406.4,1286.1 1380.1,1311.9 1353.8,1286.1" fill="#ffff00"/><polygon points="1398.3,1269.5 1424.6,1295.3 1398.3,1321.1 1372,1295.3" fill="#ffff00"/><polygon points="1416.7,1278.8 1443,1304.6 1416.7,1330.4 1390.4,1304.6" fill="#ffff00"/><polygon points="1435.5,1288.1 1461.8,1313.9 1435.5,1339.7 1409.2,1313.9" fill="#ffff00"/><polygon points="1454.8,1297.3 1481.1,1323.1 1454.8,1348.9 1428.5,1323.1" fill="#ffff00"/><polygon points="1465.6,1306.6 1491.9,1332.4 1465.6,1358.2 1439.3,1332.4" fill="#ffff00"/><polygon points="1486.3,1315.9 1512.6,1341.7 1486.3,1367.5 1460,1341.7" fill="#ffff00"/><polygon points="1508.3,1325.1 1534.6,1350.9 1508.3,1376.7 1482,1350.9" fill="#ffff00"/><polygon points="1527.4,1334.4 1553.7,1360.2 1527.4,1386 1501.1,1360.2" fill="#ffff00"/>
</g><g class="m">
<polygon points="336,1519.7 362.3,1545.5 336,1571.3 309.7,1545.5" fill="#ffff00"/><polygon points="348.2,1489.5 374.5,1515.3 348.2,1541.1 321.9,1515.3" fill="#ffff00"/><polygon points="382.4,1405.9 408.7,1431.7 382.4,1457.5 356.1,1431.7" fill="#ffff00"/><polygon points="391.1,1385.9 417.4,1411.7 391.1,1437.5 364.8,1411.7" fill="#ffff00"/><polygon points="400.3,1365.3 426.6,1391.1 400.3,1416.9 374,1391.1" fill="#ffff00"/><polygon points="409.5,1345.1 435.8,1370.9 409.5,1396.7 383.2,1370.9" fill="#ffff00"/><polygon points="419.6,1323.3 445.9,1349.1 419.6,1374.9 393.3,1349.1" fill="#ffff00"/><polygon points="430.1,1301 456.4,1326.8 430.1,1352.6 403.8,1326.8" fill="#ffff00"/><polygon points="441.1,1278.3 467.4,1304.1 441.1,1329.9 414.8,1304.1" fill="#ffff00"/><polygon points="452.4,1255.2 478.7,1281 452.4,1306.8 426.1,1281" fill="#ffff00"/><polygon points="464.1,1232 490.4,1257.8 464.1,1283.6 437.8,1257.8" fill="#ffff00"/><polygon points="476.1,1208.5 502.4,1234.3 476.1,1260.1 449.8,1234.3" fill="#ffff00"/><polygon points="488.5,1185 514.8,1210.8 488.5,1236.6 462.2,1210.8" fill="#ffff00"/><polygon points="501.5,1160.8 527.8,1186.6 501.5,1212.4 475.2,1186.6" fill="#ffff00"/><polygon points="515.6,1134.8 541.9,1160.6 515.6,1186.4 489.3,1160.6" fill="#ffff00"/><polygon points="529.7,1109.6 556,1135.4 529.7,1161.2 503.4,1135.4" fill="#ffff00"/><polygon points="542.9,1087.1 569.2,1112.9 542.9,1138.7 516.6,1112.9" fill="#ffff00"/><polygon points="555.5,1066.2 581.8,1092 555.5,1117.8 529.2,1092" fill="#ffff00"/><polygon points="568,1046.5 594.3,1072.3 568,1098.1 541.7,1072.3" fill="#ffff00"/><polygon points="580.6,1027.2 606.9,1053 580.6,1078.8 554.3,1053" fill="#ffff00"/><polygon points="593.4,1008 619.7,1033.8 593.4,1059.6 567.1,1033.8" fill="#ffff00"/><polygon points="606.4,989.2 632.7,1015 606.4,1040.8 580.1,1015" fill="#ffff00"/><polygon points="619.9,970 646.2,995.8 619.9,1021.6 593.6,995.8" fill="#ffff00"/><polygon points="634.4,949.7 660.7,975.5 634.4,1001.3 608.1,975.5" fill="#ffff00"/><polygon points="649.6,928.7 675.9,954.5 649.6,980.3 623.3,954.5" fill="#ffff00"/><polygon points="665.4,907.4 691.7,933.2 665.4,959 639.1,933.2" fill="#ffff00"/><polygon points="681.6,886.2 707.9,912 681.6,937.8 655.3,912" fill="#ffff00"/><polygon points="697.9,865.6 724.2,891.4 697.9,917.2 671.6,891.4" fill="#ffff00"/><polygon points="714.3,845.7 740.6,871.5 714.3,897.3 688,871.5" fill="#ffff00"/><polygon points="730.6,827 756.9,852.8 730.6,878.6 704.3,852.8" fill="#ffff00"/><polygon points="746.5,809.7 772.8,835.5 746.5,861.3 720.2,835.5" fill="#ffff00"/><polygon points="761.8,794.1 788.1,819.9 761.8,845.7 735.5,819.9" fill="#ffff00"/><polygon points="776.5,780.5 802.8,806.3 776.5,832.1 750.2,806.3" fill="#ffff00"/><polygon points="790,769.6 816.3,795.4 790,821.2 763.7,795.4" fill="#ffff00"/><polygon points="802.8,760.5 829.1,786.3 802.8,812.1 776.5,786.3" fill="#ffff00"/><polygon points="816.6,750.3 842.9,776.1 816.6,801.9 790.3,776.1" fill="#ffff00"/><polygon points="831.8,738.9 858.1,764.7 831.8,790.5 805.5,764.7" fill="#ffff00"/><polygon points="847.5,727.4 873.8,753.2 847.5,779 821.2,753.2" fill="#ffff00"/><polygon points="862.9,717.1 889.2,742.9 862.9,768.7 836.6,742.9" fill="#ffff00"/><polygon points="878.1,708 904.4,733.8 878.1,759.6 851.8,733.8" fill="#ffff00"/><polygon points="893.1,699.8 919.4,725.6 893.1,751.4 866.8,725.6" fill="#ffff00"/><polygon points="908.2,692.4 934.5,718.2 908.2,744 881.9,718.2" fill="#ffff00"/><polygon points="923.4,685.6 949.7,711.4 923.4,737.2 897.1,711.4" fill="#ffff00"/><polygon points="938.8,679.3 965.1,705.1 938.8,730.9 912.5,705.1" fill="#ffff00"/><polygon points="954.7,673.2 981,699 954.7,724.8 928.4,699" fill="#ffff00"/><polygon points="971.2,666.9 997.5,692.7 971.2,718.5 944.9,692.7" fill="#ffff00"/><polygon points="988.4,660.7 1014.7,686.5 988.4,712.3 962.1,686.5" fill="#ffff00"/><polygon points="1005.4,655.6 1031.7,681.4 1005.4,707.2 979.1,681.4" fill="#ffff00"/><polygon points="1021.6,652.3 1047.9,678.1 1021.6,703.9 995.3,678.1" fill="#ffff00"/><polygon points="1036.5,651.5 1062.8,677.3 1036.5,703.1 1010.2,677.3" fill="#ffff00"/><polygon points="1051.6,651.4 1077.9,677.2 1051.6,703 1025.3,677.2" fill="#ffff00"/><polygon points="1067,651.6 1093.3,677.4 1067,703.2 1040.7,677.4" fill="#ffff00"/><polygon points="1082.3,652.7 1108.6,678.5 1082.3,704.3 1056,678.5" fill="#ffff00"/><polygon points="1097.6,654.6 1123.9,680.4 1097.6,706.2 1071.3,680.4" fill="#ffff00"/><polygon points="1112.9,657.2 1139.2,683 1112.9,708.8 1086.6,683" fill="#ffff00"/><polygon points="1128.3,660.6 1154.6,686.4 1128.3,712.2 1102,686.4" fill="#ffff00"/><polygon points="1143.9,664.5 1170.2,690.3 1143.9,716.1 1117.6,690.3" fill="#ffff00"/><polygon points="1159.7,669.1 1186,694.9 1159.7,720.7 1133.4,694.9" fill="#ffff00"/><polygon points="1175.7,674.2 1202,700 1175.7,725.8 1149.4,700" fill="#ffff00"/><polygon points="1192,679.9 1218.3,705.7 1192,731.5 1165.7,705.7" fill="#ffff00"/><polygon points="1208.8,686 1235.1,711.8 1208.8,737.6 1182.5,711.8" fill="#ffff00"/><polygon points="1225.9,692.6 1252.2,718.4 1225.9,744.2 1199.6,718.4" fill="#ffff00"/><polygon points="1243.5,699.7 1269.8,725.5 1243.5,751.3 1217.2,725.5" fill="#ffff00"/><polygon points="1261.6,707.2 1287.9,733 1261.6,758.8 1235.3,733" fill="#ffff00"/><polygon points="1281.6,714 1307.9,739.8 1281.6,765.6 1255.3,739.8" fill="#ffff00"/><polygon points="1303.7,720.2 1330,746 1303.7,771.8 1277.4,746" fill="#ffff00"/><polygon points="1323.9,729.1 1350.2,754.9 1323.9,780.7 1297.6,754.9" fill="#ffff00"/><polygon points="1343.2,739.6 1369.5,765.4 1343.2,791.2 1316.9,765.4" fill="#ffff00"/><polygon points="1361.8,751.7 1388.1,777.5 1361.8,803.3 1335.5,777.5" fill="#ffff00"/><polygon points="1380.1,764.9 1406.4,790.7 1380.1,816.5 1353.8,790.7" fill="#ffff00"/><polygon points="1398.3,779.2 1424.6,805 1398.3,830.8 1372,805" fill="#ffff00"/><polygon points="1416.7,794.3 1443,820.1 1416.7,845.9 1390.4,820.1" fill="#ffff00"/><polygon points="1435.5,810 1461.8,835.8 1435.5,861.6 1409.2,835.8" fill="#ffff00"/><polygon points="1454.8,826.5 1481.1,852.3 1454.8,878.1 1428.5,852.3" fill="#ffff00"/><polygon points="1465.6,848.9 1491.9,874.7 1465.6,900.5 1439.3,874.7" fill="#ffff00"/><polygon points="1486.3,866.4 1512.6,892.2 1486.3,918 1460,892.2" fill="#ffff00"/><polygon points="1508.3,884.1 1534.6,909.9 1508.3,935.7 1482,909.9" fill="#ffff00"/><polygon points="1527.4,904.5 1553.7,930.3 1527.4,956.1 1501.1,930.3" fill="#ffff00"/>
</g>
<g class="m">
<polygon points="336,499 360.5,541.4 311.5,541.4" fill="#008000"/><polygon points="348.6,508.3 373.1,550.7 324.1,550.7" fill="#008000"/><polygon points="359.9,517.5 384.4,559.9 335.4,559.9" fill="#008000"/><polygon points="370.6,526.8 395.1,569.2 346.1,569.2" fill="#008000"/><polygon points="380.7,536.1 405.2,578.5 356.2,578.5" fill="#008000"/><polygon points="389.9,545.3 414.4,587.7 365.4,587.7" fill="#008000"/><polygon points="398,554.6 422.5,597 373.5,597" fill="#008000"/><polygon points="404.4,563.9 428.9,606.3 379.9,606.3" fill="#008000"/><polygon points="409.8,573.1 434.3,615.5 385.3,615.5" fill="#008000"/><polygon points="415.8,582.4 440.3,624.8 391.3,624.8" fill="#008000"/><polygon points="424.5,591.7 449,634.1 400,634.1" fill="#008000"/><polygon points="437.3,600.9 461.8,643.3 412.8,643.3" fill="#008000"/><polygon points="449.8,610.2 474.3,652.6 425.3,652.6" fill="#008000"/><polygon points="459.5,619.5 484,661.9 435,661.9" fill="#008000"/><polygon points="468.3,628.7 492.8,671.1 443.8,671.1" fill="#008000"/><polygon points="476.5,638 501,680.4 452,680.4" fill="#008000"/><polygon points="484.4,647.3 508.9,689.7 459.9,689.7" fill="#008000"/><polygon points="492.5,656.5 517,698.9 468,698.9" fill="#008000"/><polygon points="501,665.8 525.5,708.2 476.5,708.2" fill="#008000"/><polygon points="509.5,675.1 534,717.5 485,717.5" fill="#008000"/><polygon points="518,684.3 542.5,726.7 493.5,726.7" fill="#008000"/><polygon points="526.4,693.6 550.9,736 501.9,736" fill="#008000"/><polygon points="535,702.9 559.5,745.3 510.5,745.3" fill="#008000"/><polygon points="543.8,712.1 568.3,754.5 519.3,754.5" fill="#008000"/><polygon points="552.8,721.4 577.3,763.8 528.3,763.8" fill="#008000"/><polygon points="562.2,730.7 586.7,773.1 537.7,773.1" fill="#008000"/><polygon points="572.1,739.9 596.6,782.3 547.6,782.3" fill="#008000"/><polygon points="582.7,749.2 607.2,791.6 558.2,791.6" fill="#008000"/><polygon points="594.2,758.5 618.7,800.9 569.7,800.9" fill="#008000"/><polygon points="606.1,767.7 630.6,810.1 581.6,810.1" fill="#008000"/><polygon points="618.5,777 643,819.4 594,819.4" fill="#008000"/><polygon points="631.2,786.3 655.7,828.7 606.7,828.7" fill="#008000"/><polygon points="644.2,795.5 668.7,837.9 619.7,837.9" fill="#008000"/><polygon points="657.6,804.8 682.1,847.2 633.1,847.2" fill="#008000"/><polygon points="671.1,814 695.6,856.4 646.6,856.4" fill="#008000"/><polygon points="684.9,823.3 709.4,865.7 660.4,865.7" fill="#008000"/><polygon points="698.9,832.6 723.4,875 674.4,875" fill="#008000"/><polygon points="713,841.8 737.5,884.2 688.5,884.2" fill="#008000"/><polygon points="727.2,851.1 751.7,893.5 702.7,893.5" fill="#008000"/><polygon points="741.5,860.4 766,902.8 717,902.8" fill="#008000"/><polygon points="755.8,869.6 780.3,912 731.3,912" fill="#008000"/><polygon points="770.2,878.9 794.7,921.3 745.7,921.3" fill="#008000"/><polygon points="785,888.2 809.5,930.6 760.5,930.6" fill="#008000"/><polygon points="799.5,897.4 824,939.8 775,939.8" fill="#008000"/><polygon points="813.5,906.7 838,949.1 789,949.1" fill="#008000"/><polygon points="827.2,916 851.7,958.4 802.7,958.4" fill="#008000"/><polygon points="840.8,925.2 865.3,967.6 816.3,967.6" fill="#008000"/><polygon points="854,934.5 878.5,976.9 829.5,976.9" fill="#008000"/><polygon points="867.1,943.8 891.6,986.2 842.6,986.2" fill="#008000"/><polygon points="880.5,953 905,995.4 856,995.4" fill="#008000"/><polygon points="894.4,962.3 918.9,1004.7 869.9,1004.7" fill="#008000"/><polygon points="908.5,971.6 933,1014 884,1014" fill="#008000"/><polygon points="922.8,980.8 947.3,1023.2 898.3,1023.2" fill="#008000"/><polygon points="937,990.1 961.5,1032.5 912.5,1032.5" fill="#008000"/><polygon points="951.1,999.4 975.6,1041.8 926.6,1041.8" fill="#008000"/><polygon points="965.3,1008.6 989.8,1051 940.8,1051" fill="#008000"/><polygon points="979.6,1017.9 1004.1,1060.3 955.1,1060.3" fill="#008000"/><polygon points="993.9,1027.2 1018.4,1069.6 969.4,1069.6" fill="#008000"/><polygon points="1008.5,1036.4 1033,1078.8 984,1078.8" fill="#008000"/><polygon points="1023.3,1045.7 1047.8,1088.1 998.8,1088.1" fill="#008000"/><polygon points="1038.1,1055 1062.6,1097.4 1013.6,1097.4" fill="#008000"/><polygon points="1052.8,1064.2 1077.3,1106.6 1028.3,1106.6" fill="#008000"/><polygon points="1067.3,1073.5 1091.8,1115.9 1042.8,1115.9" fill="#008000"/><polygon points="1081.6,1082.8 1106.1,1125.2 1057.1,1125.2" fill="#008000"/><polygon points="1095.8,1092 1120.3,1134.4 1071.3,1134.4" fill="#008000"/><polygon points="1109.5,1101.3 1134,1143.7 1085,1143.7" fill="#008000"/><polygon points="1122.9,1110.5 1147.4,1152.9 1098.4,1152.9" fill="#008000"/><polygon points="1136,1119.8 1160.5,1162.2 1111.5,1162.2" fill="#008000"/><polygon points="1149,1129.1 1173.5,1171.5 1124.5,1171.5" fill="#008000"/><polygon points="1162,1138.3 1186.5,1180.7 1137.5,1180.7" fill="#008000"/><polygon points="1174.9,1147.6 1199.4,1190 1150.4,1190" fill="#008000"/><polygon points="1187.8,1156.9 1212.3,1199.3 1163.3,1199.3" fill="#008000"/><polygon points="1201,1166.1 1225.5,1208.5 1176.5,1208.5" fill="#008000"/><polygon points="1214.4,1175.4 1238.9,1217.8 1189.9,1217.8" fill="#008000"/><polygon points="1228,1184.7 1252.5,1227.1 1203.5,1227.1" fill="#008000"/><polygon points="1242.1,1193.9 1266.6,1236.3 1217.6,1236.3" fill="#008000"/><polygon points="1257,1203.2 1281.5,1245.6 1232.5,1245.6" fill="#008000"/><polygon points="1269.9,1212.5 1294.4,1254.9 1245.4,1254.9" fill="#008000"/><polygon points="1281.2,1221.7 1305.7,1264.1 1256.7,1264.1" fill="#008000"/><polygon points="1292.4,1231 1316.9,1273.4 1267.9,1273.4" fill="#008000"/><polygon points="1303.7,1240.3 1328.2,1282.7 1279.2,1282.7" fill="#008000"/><polygon points="1315,1249.5 1339.5,1291.9 1290.5,1291.9" fill="#008000"/><polygon points="1326.2,1258.8 1350.7,1301.2 1301.7,1301.2" fill="#008000"/><polygon points="1337.5,1268.1 1362,1310.5 1313,1310.5" fill="#008000"/><polygon points="1348.8,1277.3 1373.3,1319.7 1324.3,1319.7" fill="#008000"/><polygon points="1360,1286.6 1384.5,1329 1335.5,1329" fill="#008000"/><polygon points="1371.3,1295.9 1395.8,1338.3 1346.8,1338.3" fill="#008000"/><polygon points="1382.6,1305.1 1407.1,1347.5 1358.1,1347.5" fill="#008000"/><polygon points="1393.9,1314.4 1418.4,1356.8 1369.4,1356.8" fill="#008000"/><polygon points="1405.2,1323.7 1429.7,1366.1 1380.7,1366.1" fill="#008000"/><polygon points="1416.5,1332.9 1441,1375.3 1392,1375.3" fill="#008000"/>
</g><g class="m">
<polygon points="336,1518.2 360.5,1560.6 311.5,1560.6" fill="#008000"/><polygon points="348.6,1482.7 373.1,1525.1 324.1,1525.1" fill="#008000"/><polygon points="359.9,1451.7 384.4,1494.1 335.4,1494.1" fill="#008000"/><polygon points="370.6,1422.6 395.1,1465 346.1,1465" fill="#008000"/><polygon points="380.7,1395.9 405.2,1438.3 356.2,1438.3" fill="#008000"/><polygon points="389.9,1372.1 414.4,1414.5 365.4,1414.5" fill="#008000"/><polygon points="398,1351.7 422.5,1394.1 373.5,1394.1" fill="#008000"/><polygon points="404.4,1336.3 428.9,1378.7 379.9,1378.7" fill="#008000"/><polygon points="409.8,1323.9 434.3,1366.3 385.3,1366.3" fill="#008000"/><polygon points="415.8,1310.1 440.3,1352.5 391.3,1352.5" fill="#008000"/><polygon points="424.5,1289.6 449,1332 400,1332" fill="#008000"/><polygon points="437.3,1259.3 461.8,1301.7 412.8,1301.7" fill="#008000"/><polygon points="449.8,1230.3 474.3,1272.7 425.3,1272.7" fill="#008000"/><polygon points="459.5,1208.9 484,1251.3 435,1251.3" fill="#008000"/><polygon points="468.3,1190.4 492.8,1232.8 443.8,1232.8" fill="#008000"/><polygon points="476.5,1173.7 501,1216.1 452,1216.1" fill="#008000"/><polygon points="484.4,1158.1 508.9,1200.5 459.9,1200.5" fill="#008000"/><polygon points="492.5,1142.5 517,1184.9 468,1184.9" fill="#008000"/><polygon points="501,1126.4 525.5,1168.8 476.5,1168.8" fill="#008000"/><polygon points="509.5,1110.6 534,1153 485,1153" fill="#008000"/><polygon points="518,1095.4 542.5,1137.8 493.5,1137.8" fill="#008000"/><polygon points="526.4,1080.6 550.9,1123 501.9,1123" fill="#008000"/><polygon points="535,1066.1 559.5,1108.5 510.5,1108.5" fill="#008000"/><polygon points="543.8,1051.6 568.3,1094 519.3,1094" fill="#008000"/><polygon points="552.8,1036.8 577.3,1079.2 528.3,1079.2" fill="#008000"/><polygon points="562.2,1021.8 586.7,1064.2 537.7,1064.2" fill="#008000"/><polygon points="572.1,1006.2 596.6,1048.6 547.6,1048.6" fill="#008000"/><polygon points="582.7,989.5 607.2,1031.9 558.2,1031.9" fill="#008000"/><polygon points="594.2,971.7 618.7,1014.1 569.7,1014.1" fill="#008000"/><polygon points="606.1,953.4 630.6,995.8 581.6,995.8" fill="#008000"/><polygon points="618.5,934.8 643,977.2 594,977.2" fill="#008000"/><polygon points="631.2,916.2 655.7,958.6 606.7,958.6" fill="#008000"/><polygon points="644.2,897.5 668.7,939.9 619.7,939.9" fill="#008000"/><polygon points="657.6,879 682.1,921.4 633.1,921.4" fill="#008000"/><polygon points="671.1,860.6 695.6,903 646.6,903" fill="#008000"/><polygon points="684.9,842.6 709.4,885 660.4,885" fill="#008000"/><polygon points="698.9,824.9 723.4,867.3 674.4,867.3" fill="#008000"/><polygon points="713,807.7 737.5,850.1 688.5,850.1" fill="#008000"/><polygon points="727.2,791 751.7,833.4 702.7,833.4" fill="#008000"/><polygon points="741.5,774.9 766,817.3 717,817.3" fill="#008000"/><polygon points="755.8,759.6 780.3,802 731.3,802" fill="#008000"/><polygon points="770.2,744.8 794.7,787.2 745.7,787.2" fill="#008000"/><polygon points="785,729.9 809.5,772.3 760.5,772.3" fill="#008000"/><polygon points="799.5,716.6 824,759 775,759" fill="#008000"/><polygon points="813.5,704.7 838,747.1 789,747.1" fill="#008000"/><polygon points="827.2,693.9 851.7,736.3 802.7,736.3" fill="#008000"/><polygon points="840.8,684.2 865.3,726.6 816.3,726.6" fill="#008000"/><polygon points="854,675.7 878.5,718.1 829.5,718.1" fill="#008000"/><polygon points="867.1,668.1 891.6,710.5 842.6,710.5" fill="#008000"/><polygon points="880.5,660.7 905,703.1 856,703.1" fill="#008000"/><polygon points="894.4,653.2 918.9,695.6 869.9,695.6" fill="#008000"/><polygon points="908.5,646.2 933,688.6 884,688.6" fill="#008000"/><polygon points="922.8,639.6 947.3,682 898.3,682" fill="#008000"/><polygon points="937,633.8 961.5,676.2 912.5,676.2" fill="#008000"/><polygon points="951.1,628.9 975.6,671.3 926.6,671.3" fill="#008000"/><polygon points="965.3,624.6 989.8,667 940.8,667" fill="#008000"/><polygon points="979.6,621 1004.1,663.4 955.1,663.4" fill="#008000"/><polygon points="993.9,618 1018.4,660.4 969.4,660.4" fill="#008000"/><polygon points="1008.5,615.3 1033,657.7 984,657.7" fill="#008000"/><polygon points="1023.3,613.2 1047.8,655.6 998.8,655.6" fill="#008000"/><polygon points="1038.1,611.9 1062.6,654.3 1013.6,654.3" fill="#008000"/><polygon points="1052.8,611.5 1077.3,653.9 1028.3,653.9" fill="#008000"/><polygon points="1067.3,612 1091.8,654.4 1042.8,654.4" fill="#008000"/><polygon points="1081.6,613.4 1106.1,655.8 1057.1,655.8" fill="#008000"/><polygon points="1095.8,615.9 1120.3,658.3 1071.3,658.3" fill="#008000"/><polygon points="1109.5,619.6 1134,662 1085,662" fill="#008000"/><polygon points="1122.9,624.4 1147.4,666.8 1098.4,666.8" fill="#008000"/><polygon points="1136,630.1 1160.5,672.5 1111.5,672.5" fill="#008000"/><polygon points="1149,636.6 1173.5,679 1124.5,679" fill="#008000"/><polygon points="1162,643.9 1186.5,686.3 1137.5,686.3" fill="#008000"/><polygon points="1174.9,651.9 1199.4,694.3 1150.4,694.3" fill="#008000"/><polygon points="1187.8,660.5 1212.3,702.9 1163.3,702.9" fill="#008000"/><polygon points="1201,669.6 1225.5,712 1176.5,712" fill="#008000"/><polygon points="1214.4,679.2 1238.9,721.6 1189.9,721.6" fill="#008000"/><polygon points="1228,689.1 1252.5,731.5 1203.5,731.5" fill="#008000"/><polygon points="1242.1,699.5 1266.6,741.9 1217.6,741.9" fill="#008000"/><polygon points="1257,709.7 1281.5,752.1 1232.5,752.1" fill="#008000"/><polygon points="1269.9,722.6 1294.4,765 1245.4,765" fill="#008000"/><polygon points="1281.2,737.4 1305.7,779.8 1256.7,779.8" fill="#008000"/><polygon points="1292.4,752.8 1316.9,795.2 1267.9,795.2" fill="#008000"/><polygon points="1303.7,768.7 1328.2,811.1 1279.2,811.1" fill="#008000"/><polygon points="1315,785.3 1339.5,827.7 1290.5,827.7" fill="#008000"/><polygon points="1326.2,802.4 1350.7,844.8 1301.7,844.8" fill="#008000"/><polygon points="1337.5,820.1 1362,862.5 1313,862.5" fill="#008000"/><polygon points="1348.8,838.4 1373.3,880.8 1324.3,880.8" fill="#008000"/><polygon points="1360,857.3 1384.5,899.7 1335.5,899.7" fill="#008000"/><polygon points="1371.3,876.7 1395.8,919.1 1346.8,919.1" fill="#008000"/><polygon points="1382.6,896.8 1407.1,939.2 1358.1,939.2" fill="#008000"/><polygon points="1393.9,917.4 1418.4,959.8 1369.4,959.8" fill="#008000"/><polygon points="1405.2,938.6 1429.7,981 1380.7,981" fill="#008000"/><polygon points="1416.5,960.3 1441,1002.7 1392,1002.7" fill="#008000"/>
</g>
<g class="m">
<circle cx="337.5" cy="563.3" r="19.8" fill="#0000ff"/><circle cx="351.6" cy="572.6" r="19.8" fill="#0000ff"/><circle cx="368.2" cy="581.9" r="19.8" fill="#0000ff"/><circle cx="379.5" cy="591.1" r="19.8" fill="#0000ff"/><circle cx="394.2" cy="600.4" r="19.8" fill="#0000ff"/><circle cx="412.3" cy="609.7" r="19.8" fill="#0000ff"/><circle cx="426.8" cy="618.9" r="19.8" fill="#0000ff"/><circle cx="439.6" cy="628.2" r="19.8" fill="#0000ff"/><circle cx="451.3" cy="637.5" r="19.8" fill="#0000ff"/><circle cx="462.1" cy="646.7" r="19.8" fill="#0000ff"/><circle cx="472.5" cy="656" r="19.8" fill="#0000ff"/><circle cx="482.9" cy="665.3" r="19.8" fill="#0000ff"/><circle cx="493.2" cy="674.5" r="19.8" fill="#0000ff"/><circle cx="503.3" cy="683.8" r="19.8" fill="#0000ff"/><circle cx="512.9" cy="693.1" r="19.8" fill="#0000ff"/><circle cx="522.2" cy="702.3" r="19.8" fill="#0000ff"/><circle cx="531.5" cy="711.6" r="19.8" fill="#0000ff"/><circle cx="541.1" cy="720.9" r="19.8" fill="#0000ff"/><circle cx="551.2" cy="730.1" r="19.8" fill="#0000ff"/><circle cx="562.3" cy="739.4" r="19.8" fill="#0000ff"/><circle cx="574.9" cy="748.7" r="19.8" fill="#0000ff"/><circle cx="588.1" cy="757.9" r="19.8" fill="#0000ff"/><circle cx="601.3" cy="767.2" r="19.8" fill="#0000ff"/><circle cx="614.7" cy="776.5" r="19.8" fill="#0000ff"/><circle cx="628.1" cy="785.7" r="19.8" fill="#0000ff"/><circle cx="642.3" cy="795" r="19.8" fill="#0000ff"/><circle cx="657.8" cy="804.3" r="19.8" fill="#0000ff"/><circle cx="674.2" cy="813.5" r="19.8" fill="#0000ff"/><circle cx="691" cy="822.8" r="19.8" fill="#0000ff"/><circle cx="707.9" cy="832" r="19.8" fill="#0000ff"/><circle cx="724.5" cy="841.3" r="19.8" fill="#0000ff"/><circle cx="741.3" cy="850.6" r="19.8" fill="#0000ff"/><circle cx="758.1" cy="859.8" r="19.8" fill="#0000ff"/><circle cx="774.8" cy="869.1" r="19.8" fill="#0000ff"/><circle cx="791.5" cy="878.4" r="19.8" fill="#0000ff"/><circle cx="808" cy="887.6" r="19.8" fill="#0000ff"/><circle cx="824.3" cy="896.9" r="19.8" fill="#0000ff"/><circle cx="840.3" cy="906.2" r="19.8" fill="#0000ff"/><circle cx="856.1" cy="915.4" r="19.8" fill="#0000ff"/><circle cx="871.6" cy="924.7" r="19.8" fill="#0000ff"/><circle cx="886.9" cy="934" r="19.8" fill="#0000ff"/><circle cx="902.4" cy="943.2" r="19.8" fill="#0000ff"/><circle cx="918.8" cy="952.5" r="19.8" fill="#0000ff"/><circle cx="935.3" cy="961.8" r="19.8" fill="#0000ff"/><circle cx="952.3" cy="971" r="19.8" fill="#0000ff"/><circle cx="970" cy="980.3" r="19.8" fill="#0000ff"/><circle cx="987.9" cy="989.6" r="19.8" fill="#0000ff"/><circle cx="1006" cy="998.8" r="19.8" fill="#0000ff"/><circle cx="1023.4" cy="1008.1" r="19.8" fill="#0000ff"/><circle cx="1040.1" cy="1017.4" r="19.8" fill="#0000ff"/><circle cx="1056.3" cy="1026.6" r="19.8" fill="#0000ff"/><circle cx="1072.4" cy="1035.9" r="19.8" fill="#0000ff"/><circle cx="1088.4" cy="1045.2" r="19.8" fill="#0000ff"/><circle cx="1104.1" cy="1054.4" r="19.8" fill="#0000ff"/><circle cx="1119.8" cy="1063.7" r="19.8" fill="#0000ff"/><circle cx="1135.5" cy="1073" r="19.8" fill="#0000ff"/><circle cx="1151.3" cy="1082.2" r="19.8" fill="#0000ff"/><circle cx="1167.1" cy="1091.5" r="19.8" fill="#0000ff"/><circle cx="1182.9" cy="1100.8" r="19.8" fill="#0000ff"/><circle cx="1198.7" cy="1110" r="19.8" fill="#0000ff"/><circle cx="1214.6" cy="1119.3" r="19.8" fill="#0000ff"/><circle cx="1230.5" cy="1128.5" r="19.8" fill="#0000ff"/><circle cx="1246.4" cy="1137.8" r="19.8" fill="#0000ff"/><circle cx="1262.3" cy="1147.1" r="19.8" fill="#0000ff"/><circle cx="1278.2" cy="1156.3" r="19.8" fill="#0000ff"/><circle cx="1294.4" cy="1165.6" r="19.8" fill="#0000ff"/><circle cx="1310.8" cy="1174.9" r="19.8" fill="#0000ff"/><circle cx="1327.5" cy="1184.1" r="19.8" fill="#0000ff"/><circle cx="1344.5" cy="1193.4" r="19.8" fill="#0000ff"/><circle cx="1361.7" cy="1202.7" r="19.8" fill="#0000ff"/><circle cx="1379.1" cy="1211.9" r="19.8" fill="#0000ff"/><circle cx="1396.6" cy="1221.2" r="19.8" fill="#0000ff"/><circle cx="1414.3" cy="1230.5" r="19.8" fill="#0000ff"/><circle cx="1432.3" cy="1239.7" r="19.8" fill="#0000ff"/><circle cx="1450.4" cy="1249" r="19.8" fill="#0000ff"/><circle cx="1468.7" cy="1258.3" r="19.8" fill="#0000ff"/><circle cx="1487.2" cy="1267.5" r="19.8" fill="#0000ff"/><circle cx="1506.6" cy="1276.8" r="19.8" fill="#0000ff"/><circle cx="1526" cy="1286.1" r="19.8" fill="#0000ff"/><circle cx="1544.3" cy="1295.3" r="19.8" fill="#0000ff"/><circle cx="1561.3" cy="1304.6" r="19.8" fill="#0000ff"/><circle cx="1577.5" cy="1313.9" r="19.8" fill="#0000ff"/><circle cx="1593.4" cy="1323.1" r="19.8" fill="#0000ff"/><circle cx="1609" cy="1332.4" r="19.8" fill="#0000ff"/><circle cx="1624.5" cy="1341.7" r="19.8" fill="#0000ff"/><circle cx="1639.6" cy="1350.9" r="19.8" fill="#0000ff"/><circle cx="1654.5" cy="1360.2" r="19.8" fill="#0000ff"/>
</g><g class="m">
<circle cx="337.5" cy="1541.4" r="19.8" fill="#0000ff"/><circle cx="351.6" cy="1503.2" r="19.8" fill="#0000ff"/><circle cx="368.2" cy="1459.2" r="19.8" fill="#0000ff"/><circle cx="379.5" cy="1429.8" r="19.8" fill="#0000ff"/><circle cx="394.2" cy="1392.2" r="19.8" fill="#0000ff"/><circle cx="412.3" cy="1346.5" r="19.8" fill="#0000ff"/><circle cx="426.8" cy="1311.1" r="19.8" fill="#0000ff"/><circle cx="439.6" cy="1280.8" r="19.8" fill="#0000ff"/><circle cx="451.3" cy="1253.7" r="19.8" fill="#0000ff"/><circle cx="462.1" cy="1229.7" r="19.8" fill="#0000ff"/><circle cx="472.5" cy="1207.3" r="19.8" fill="#0000ff"/><circle cx="482.9" cy="1185.1" r="19.8" fill="#0000ff"/><circle cx="493.2" cy="1164" r="19.8" fill="#0000ff"/><circle cx="503.3" cy="1143.8" r="19.8" fill="#0000ff"/><circle cx="512.9" cy="1125.3" r="19.8" fill="#0000ff"/><circle cx="522.2" cy="1108.1" r="19.8" fill="#0000ff"/><circle cx="531.5" cy="1091.3" r="19.8" fill="#0000ff"/><circle cx="541.1" cy="1074.3" r="19.8" fill="#0000ff"/><circle cx="551.2" cy="1056.6" r="19.8" fill="#0000ff"/><circle cx="562.3" cy="1037.3" r="19.8" fill="#0000ff"/><circle cx="574.9" cy="1015" r="19.8" fill="#0000ff"/><circle cx="588.1" cy="992.2" r="19.8" fill="#0000ff"/><circle cx="601.3" cy="970.2" r="19.8" fill="#0000ff"/><circle cx="614.7" cy="948.3" r="19.8" fill="#0000ff"/><circle cx="628.1" cy="927.2" r="19.8" fill="#0000ff"/><circle cx="642.3" cy="905.1" r="19.8" fill="#0000ff"/><circle cx="657.8" cy="880.9" r="19.8" fill="#0000ff"/><circle cx="674.2" cy="855.8" r="19.8" fill="#0000ff"/><circle cx="691" cy="830.6" r="19.8" fill="#0000ff"/><circle cx="707.9" cy="806.2" r="19.8" fill="#0000ff"/><circle cx="724.5" cy="783.2" r="19.8" fill="#0000ff"/><circle cx="741.3" cy="760.7" r="19.8" fill="#0000ff"/><circle cx="758.1" cy="739.1" r="19.8" fill="#0000ff"/><circle cx="774.8" cy="718.5" r="19.8" fill="#0000ff"/><circle cx="791.5" cy="698.7" r="19.8" fill="#0000ff"/><circle cx="808" cy="680.2" r="19.8" fill="#0000ff"/><circle cx="824.3" cy="663.1" r="19.8" fill="#0000ff"/><circle cx="840.3" cy="647.2" r="19.8" fill="#0000ff"/><circle cx="856.1" cy="632.5" r="19.8" fill="#0000ff"/><circle cx="871.6" cy="619" r="19.8" fill="#0000ff"/><circle cx="886.9" cy="606.8" r="19.8" fill="#0000ff"/><circle cx="902.4" cy="595" r="19.8" fill="#0000ff"/><circle cx="918.8" cy="582.6" r="19.8" fill="#0000ff"/><circle cx="935.3" cy="570.7" r="19.8" fill="#0000ff"/><circle cx="952.3" cy="558.9" r="19.8" fill="#0000ff"/><circle cx="970" cy="547" r="19.8" fill="#0000ff"/><circle cx="987.9" cy="535.7" r="19.8" fill="#0000ff"/><circle cx="1006" cy="525" r="19.8" fill="#0000ff"/><circle cx="1023.4" cy="516.2" r="19.8" fill="#0000ff"/><circle cx="1040.1" cy="509.4" r="19.8" fill="#0000ff"/><circle cx="1056.3" cy="504.1" r="19.8" fill="#0000ff"/><circle cx="1072.4" cy="499.9" r="19.8" fill="#0000ff"/><circle cx="1088.4" cy="496.6" r="19.8" fill="#0000ff"/><circle cx="1104.1" cy="494.4" r="19.8" fill="#0000ff"/><circle cx="1119.8" cy="493.2" r="19.8" fill="#0000ff"/><circle cx="1135.5" cy="492.8" r="19.8" fill="#0000ff"/><circle cx="1151.3" cy="493.1" r="19.8" fill="#0000ff"/><circle cx="1167.1" cy="494.1" r="19.8" fill="#0000ff"/><circle cx="1182.9" cy="496" r="19.8" fill="#0000ff"/><circle cx="1198.7" cy="498.6" r="19.8" fill="#0000ff"/><circle cx="1214.6" cy="502" r="19.8" fill="#0000ff"/><circle cx="1230.5" cy="506.2" r="19.8" fill="#0000ff"/><circle cx="1246.4" cy="511.3" r="19.8" fill="#0000ff"/><circle cx="1262.3" cy="517.2" r="19.8" fill="#0000ff"/><circle cx="1278.2" cy="523.8" r="19.8" fill="#0000ff"/><circle cx="1294.4" cy="531" r="19.8" fill="#0000ff"/><circle cx="1310.8" cy="538.8" r="19.8" fill="#0000ff"/><circle cx="1327.5" cy="547.1" r="19.8" fill="#0000ff"/><circle cx="1344.5" cy="556.1" r="19.8" fill="#0000ff"/><circle cx="1361.7" cy="565.7" r="19.8" fill="#0000ff"/><circle cx="1379.1" cy="576" r="19.8" fill="#0000ff"/><circle cx="1396.6" cy="587.1" r="19.8" fill="#0000ff"/><circle cx="1414.3" cy="598.9" r="19.8" fill="#0000ff"/><circle cx="1432.3" cy="611.5" r="19.8" fill="#0000ff"/><circle cx="1450.4" cy="624.8" r="19.8" fill="#0000ff"/><circle cx="1468.7" cy="638.9" r="19.8" fill="#0000ff"/><circle cx="1487.2" cy="653.8" r="19.8" fill="#0000ff"/><circle cx="1506.6" cy="669.1" r="19.8" fill="#0000ff"/><circle cx="1526" cy="685.3" r="19.8" fill="#0000ff"/><circle cx="1544.3" cy="703.2" r="19.8" fill="#0000ff"/><circle cx="1561.3" cy="723" r="19.8" fill="#0000ff"/><circle cx="1577.5" cy="744.2" r="19.8" fill="#0000ff"/><circle cx="1593.4" cy="766.4" r="19.8" fill="#0000ff"/><circle cx="1609" cy="789.6" r="19.8" fill="#0000ff"/><circle cx="1624.5" cy="813.7" r="19.8" fill="#0000ff"/><circle cx="1639.6" cy="838.7" r="19.8" fill="#0000ff"/><circle cx="1654.5" cy="864.7" r="19.8" fill="#0000ff"/>
</g>
</g>
<g stroke="#000" stroke-width="10" fill="none" stroke-linecap="butt">
<path d="M336 1452.8h14M336 1360.2h28M336 1267.5h14M336 1174.9h28M336 1082.2h14M336 989.6h28M336 896.9h14M336 804.2h28M336 711.6h14M336 618.9h28M336 526.3h14M336 433.6h28M336 341h14M336 248.3h28M336 155.7h14M2173.5 1397.2h-14M2173.5 1249h-28M2173.5 1100.8h-14M2173.5 952.5h-28M2173.5 804.2h-14M2173.5 656h-28M2173.5 507.8h-14M2173.5 359.5h-28M2173.5 211.2h-14M565.7 1545.5v-14M795.4 1545.5v-28M1025.1 1545.5v-14M1254.8 1545.5v-28M1484.4 1545.5v-14M1714.1 1545.5v-28M1943.8 1545.5v-14"/>
</g>
<rect x="336" y="63" width="1837.5" height="1482.5" fill="none" stroke="#000" stroke-width="10"/>
<text class="tk" x="304" y="1567.5" text-anchor="end">0.0</text>
<text class="tk" x="304" y="1382.2" text-anchor="end">0.2</text>
<text class="tk" x="304" y="1196.9" text-anchor="end">0.4</text>
<text class="tk" x="304" y="1011.6" text-anchor="end">0.6</text>
<text class="tk" x="304" y="826.2" text-anchor="end">0.8</text>
<text class="tk" x="304" y="640.9" text-anchor="end">1.0</text>
<text class="tk" x="304" y="455.6" text-anchor="end">1.2</text>
<text class="tk" x="304" y="270.3" text-anchor="end">1.4</text>
<text class="tk" x="304" y="85" text-anchor="end">1.6</text>
<text class="tk" x="2203" y="1567.5">0.0</text>
<text class="tk" x="2203" y="1271">0.5</text>
<text class="tk" x="2203" y="974.5">1.0</text>
<text class="tk" x="2203" y="678">1.5</text>
<text class="tk" x="2203" y="381.5">2.0</text>
<text class="tk" x="2203" y="85">2.5</text>
<text class="tk" x="336" y="1636" text-anchor="middle">0.000</text>
<text class="tk" x="795.4" y="1636" text-anchor="middle">0.002</text>
<text class="tk" x="1254.8" y="1636" text-anchor="middle">0.004</text>
<text class="tk" x="1714.1" y="1636" text-anchor="middle">0.006</text>
<text class="tk" x="2173.5" y="1636" text-anchor="middle">0.008</text>
<text class="ttl" x="1256" y="1796" text-anchor="middle">Current density (A/cm<tspan dy="-39.5" font-size="66">2</tspan><tspan dy="39.5">)</tspan></text>
<text class="ttl" transform="translate(110.5 803) rotate(-90)" text-anchor="middle">Voltage (V)</text>
<text class="ttl" transform="translate(2453 803) rotate(-90)" text-anchor="middle">Power density (mW/cm<tspan dy="-39.5" font-size="66">2</tspan><tspan dy="39.5">)</tspan></text>
<text x="1798" y="630" font-size="78">@400<tspan dy="-30" font-size="50">o</tspan><tspan dy="30">C</tspan></text>
<rect x="1542.5" y="122.5" width="581.5" height="409.5" fill="#000"/>
<rect x="1521.5" y="101.5" width="580.5" height="408.5" fill="#fff" stroke="#000" stroke-width="4.5"/>
<g class="m">
<circle cx="1599.6" cy="146.8" r="24.8" fill="#0000ff"/>
<polygon points="1599.6,191.2 1630.2,244.2 1569,244.2" fill="#008000"/>
<polygon points="1599.6,273.8 1632.5,306 1599.6,338.2 1566.7,306" fill="#ffff00"/>
<polygon points="1599.6,357 1626.8,376.8 1616.4,408.8 1582.8,408.8 1572.4,376.8" fill="#ff8000"/>
<rect x="1577.8" y="443.4" width="43.6" height="43.6" fill="#9900ff"/>
</g>
<text class="lg" x="1688" y="167.3">Ag20 SDC80</text>
<text class="lg" x="1688" y="246.9">Ag20 SDC50</text>
<text class="lg" x="1688" y="326.5">Pt ref</text>
<text class="lg" x="1688" y="406.1">Ag60 SDC50</text>
<text class="lg" x="1688" y="485.7">Ag100 SDC50</text>
</g></svg></body></html>
